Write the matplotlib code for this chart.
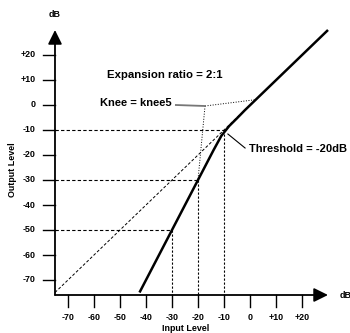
import matplotlib
matplotlib.use("Agg")
import matplotlib.pyplot as plt

plt.rcParams['font.family'] = ['Liberation Sans', 'DejaVu Sans']
plt.rcParams['font.weight'] = 'bold'

# tick values / labels (dB)
ticks = [-70, -60, -50, -40, -30, -20, -10, 0, 10, 20]
tick_labels = ['-70', '-60', '-50', '-40', '-30', '-20', '-10', '0', '+10', '+20']

# expander transfer curve (input dB -> output dB)
curve_in = [-42.5, -30, -20, -14, -11, -8, -5, -2, 30]
curve_out = [-75, -50, -30, -18, -12.3, -8.4, -5.3, -2.1, 30]

# unity (1:1) reference line
unity_in = [-75, -4]
unity_out = [-75, -4]

# dashed guide points on the curve
guide_in = [-30, -20, -10]
guide_out = [-50, -30, -10]

# knee point and where its dotted lines go
knee_pt = (-17.3, -0.4)
knee_to = [(2.7, 2.2), (-20, -30)]

axis_pos = -75
xaxis_pos = -76

fig = plt.figure(figsize=(3.5, 3.33), dpi=100)
ax = fig.add_axes([0, 0, 1, 1])
ax.set_xlim(-96.15, 38.46)
ax.set_ylim(-91.2, 42)
for s in ax.spines.values():
    s.set_visible(False)
ax.set_xticks([])
ax.set_yticks([])

# axes with arrow heads
arrow = dict(arrowstyle='-|>,head_length=0.85,head_width=0.42', lw=1.3,
             color='black', shrinkA=0, shrinkB=0)
ax.annotate('', xy=(axis_pos, 30), xytext=(axis_pos, xaxis_pos), arrowprops=arrow)
ax.annotate('', xy=(30, xaxis_pos), xytext=(axis_pos, xaxis_pos), arrowprops=arrow)

# ticks drawn by hand along the arrows
for t, lab in zip(ticks, tick_labels):
    ax.plot([axis_pos - 4.6, axis_pos], [t, t], color='black', lw=1.0)
    ax.text(axis_pos - 7.5, t, lab, ha='right', va='center', fontsize=6.4)
    ax.plot([t, t], [xaxis_pos, xaxis_pos - 4.6], color='black', lw=1.0)
    ax.text(t, xaxis_pos - 9.2, lab, ha='center', va='center', fontsize=6.4)

# guides
for gx, gy in zip(guide_in, guide_out):
    ax.plot([axis_pos, gx], [gy, gy], color='black', lw=0.8, dashes=(3, 2))
    ax.plot([gx, gx], [gy, xaxis_pos], color='black', lw=0.8, dashes=(2, 1.6))

# 1:1 line
ax.plot(unity_in, unity_out, color='black', lw=0.7, dashes=(3, 2))

# knee dotted lines
for kx, ky in knee_to:
    ax.plot([knee_pt[0], kx], [knee_pt[1], ky], color='black', lw=0.7, ls=':')
ax.plot([-28.5, knee_pt[0]], [0, knee_pt[1]], color='#777777', lw=1.3)

# transfer curve
ax.plot(curve_in, curve_out, color='black', lw=1.8, solid_capstyle='butt')

# threshold pointer
ax.plot([-8.5, -1.9], [-11.6, -17.2], color='black', lw=0.8)

ax.text(-32.7, 12, 'Expansion ratio = 2:1', ha='center', va='center', fontsize=8.2)
ax.text(-30, 0.8, 'Knee = knee5', ha='right', va='center', fontsize=8.0)
ax.text(-0.4, -17.6, 'Threshold = -20dB', ha='left', va='center', fontsize=8.0)
ax.text(axis_pos, 36, 'dB', ha='center', va='center', fontsize=6.4)
ax.text(34.4, -76.4, 'dB', ha='left', va='center', fontsize=6.4)
ax.text(-24.6, -89.4, 'Input Level', ha='center', va='center', fontsize=6.4)
ax.text(-91.2, -26, 'Output Level', ha='center', va='center', rotation=90, fontsize=6.4)

fig.savefig('out.png', dpi=100)
